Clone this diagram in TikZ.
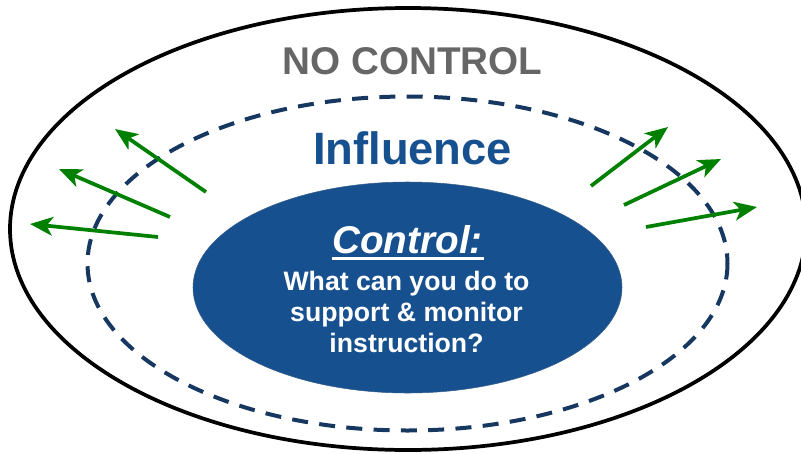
\documentclass[tikz,border=0pt]{standalone}
\usepackage{fontspec}
\setmainfont{Liberation Sans}
\usetikzlibrary{arrows.meta}
\usepackage{xcolor}
\definecolor{ctrlblue}{RGB}{23,80,143}
\definecolor{dashnavy}{RGB}{22,55,96}
\definecolor{pushgreen}{RGB}{0,128,0}
\definecolor{nogray}{RGB}{102,102,102}

\begin{document}
\begin{tikzpicture}[
  x=0.75pt, y=-0.75pt,
  ring/.style={line width=2.8pt, draw=black},
  zone/.style={line width=3pt, draw=dashnavy, dash pattern=on 12pt off 8.5pt},
  core/.style={fill=ctrlblue, draw=ctrlblue!70!gray, line width=0.4pt},
  push/.style={-{Stealth[length=17pt, width=14pt, inset=4.5pt]}, draw=pushgreen, line width=2.8pt},
  lbl/.style={inner sep=0pt, anchor=base, font=\bfseries}
]
\useasboundingbox (0,0) rectangle (801,454);

% three nested regions
\draw[ring] (408,229) ellipse [x radius=398, y radius=221];
\draw[zone] (407.5,263.5) ellipse [x radius=320, y radius=167];
\path[core] (407.5,287.5) ellipse [x radius=214.5, y radius=105.5];

\node[lbl, text=nogray, font=\fontsize{29}{34}\selectfont\bfseries] (nocontrol) at (412.5,74) {NO CONTROL};
\node[lbl, text=ctrlblue, font=\fontsize{34}{40}\selectfont\bfseries] (influence) at (412.5,164) {Influence};
\node[lbl, text=white, font=\fontsize{29}{34}\selectfont\bfseries\itshape] (control) at (407.5,253) {Control:};
\draw[white, line width=2.2pt] ([yshift=-4pt]control.base west) -- ([xshift=1pt,yshift=-4pt]control.base east);
\node[inner sep=0pt, align=center, text=white, font=\fontsize{20}{23.3}\selectfont\bfseries] (ask) at (406.5,312)
  {What can you do to\\support \& monitor\\instruction?};

% arrows pushing outward
\coordinate (t1) at (206,192); \coordinate (h1) at (115,129);
\coordinate (t2) at (170,217); \coordinate (h2) at (59,169);
\coordinate (t3) at (158,237); \coordinate (h3) at (30,224);
\coordinate (t4) at (591,186); \coordinate (h4) at (668,127);
\coordinate (t5) at (624,205); \coordinate (h5) at (721,159);
\coordinate (t6) at (646,227); \coordinate (h6) at (757,207);

\foreach \a/\b in {t1/h1,t2/h2,t3/h3,t4/h4,t5/h5,t6/h6}
  \draw[push] (\a) -- (\b);
\end{tikzpicture}
\end{document}
